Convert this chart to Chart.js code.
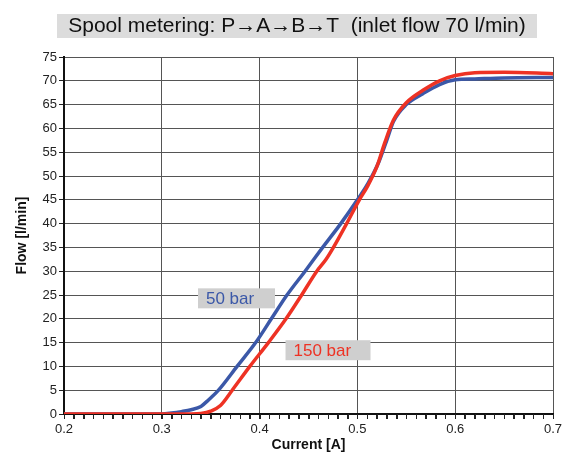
<!DOCTYPE html>
<html>
<head>
<meta charset="utf-8">
<script src="https://cdn.jsdelivr.net/npm/chart.js@4/dist/chart.umd.min.js"></script>
<style>
  html, body { margin: 0; padding: 0; background: #fff; }
  #wrap { position: relative; width: 563px; height: 454px; }
</style>
</head>
<body>
<div id="wrap"><canvas id="chartSpool"></canvas></div>
<script>
// Curvas de medición (corriente [A] -> caudal [l/min])
const titulo = 'Spool metering: P\u2192A\u2192B\u2192T  (inlet flow 70 l/min)';
const etiquetas = ['50 bar', '150 bar'];

const corriente50 = [0.2, 0.3, 0.31, 0.32, 0.33, 0.34, 0.348, 0.358, 0.377, 0.396, 0.412, 0.428, 0.4465, 0.4645, 0.483, 0.5, 0.511, 0.522, 0.53, 0.537, 0.55, 0.567, 0.584, 0.6, 0.62, 0.65, 0.7];
const caudal50    = [0, 0, 0.2, 0.5, 0.9, 1.6, 3, 5, 10, 15, 20, 25, 30, 35, 40, 45, 48.5, 53, 57.5, 61.5, 65, 67.3, 69.2, 70.2, 70.4, 70.6, 70.7];

const corriente150 = [0.2, 0.33, 0.34, 0.35, 0.36, 0.372, 0.39, 0.409, 0.427, 0.443, 0.4585, 0.468, 0.4755, 0.489, 0.502, 0.51, 0.52, 0.528, 0.537, 0.55, 0.567, 0.584, 0.6, 0.62, 0.65, 0.7];
const caudal150    = [0, 0, 0.1, 0.6, 1.8, 5, 10, 15, 20, 25, 30, 32.5, 35, 40, 45, 47.7, 52, 57, 61.8, 65.4, 68, 70, 71.1, 71.7, 71.8, 71.5];

const azul = '#3b58a8';
const rojo = '#ee3224';

const puntos = (xs, ys) => xs.map((x, i) => ({ x: x, y: ys[i] }));
const esMayor = v => Math.abs(v * 10 - Math.round(v * 10)) < 1e-6;

// Título, etiquetas con fondo gris y marcas menores del eje X
const cajas = {
    id: 'cajas',
    afterDraw(chart) {
        const c = chart.ctx;
        const sx = chart.scales.x, sy = chart.scales.y;
        c.save();
        // marcas menores cada 0.01 A
        c.strokeStyle = '#222';
        c.lineWidth = 1;
        sx.ticks.forEach(t => {
            const px = Math.round(sx.getPixelForValue(t.value)) + 0.5;
            c.beginPath();
            c.moveTo(px, sx.top);
            c.lineTo(px, sx.top + 5);
            c.stroke();
        });
        c.textBaseline = 'middle';
        // título
        c.font = '21px "Liberation Sans", Arial, sans-serif';
        c.fillStyle = '#dcdcdc';
        c.fillRect(57, 14, 480, 24);
        c.fillStyle = '#111';
        c.textAlign = 'center';
        c.fillText(titulo, 297, 26.5);
        // etiquetas de series
        c.font = '17px "Liberation Sans", Arial, sans-serif';
        c.textAlign = 'left';
        const lab = [
            { t: etiquetas[0], x: 0.337, y: 24.3, w: 77, col: azul },
            { t: etiquetas[1], x: 0.4265, y: 13.4, w: 85, col: rojo }
        ];
        lab.forEach(l => {
            const px = sx.getPixelForValue(l.x), py = sy.getPixelForValue(l.y);
            c.fillStyle = '#cfcfcf';
            c.fillRect(px, py - 10, l.w, 20);
            c.fillStyle = l.col;
            c.fillText(l.t, px + 8, py + 1);
        });
        c.restore();
    }
};

const ctxSpool = document.getElementById('chartSpool').getContext('2d');
new Chart(ctxSpool, {
    type: 'line',
    data: {
        datasets: [{
            label: etiquetas[0],
            data: puntos(corriente50, caudal50),
            borderColor: azul,
            borderWidth: 3.5,
            pointRadius: 0,
            cubicInterpolationMode: 'monotone',
            order: 2
        }, {
            label: etiquetas[1],
            data: puntos(corriente150, caudal150),
            borderColor: rojo,
            borderWidth: 3.5,
            pointRadius: 0,
            cubicInterpolationMode: 'monotone',
            order: 1
        }]
    },
    options: {
        responsive: true,
        maintainAspectRatio: false,
        animation: false,
        layout: { padding: { top: 57, right: 10, left: 14, bottom: 0 } },
        plugins: { legend: { display: false }, tooltip: { enabled: false } },
        scales: {
            x: {
                type: 'linear', min: 0.2, max: 0.7,
                afterFit: s => { s.height = 40; s.paddingRight = 0; s.paddingLeft = 0; },
                ticks: {
                    stepSize: 0.01, maxTicksLimit: 100, autoSkip: false, maxRotation: 0, padding: 3,
                    color: '#222', font: { family: '"Liberation Sans", Arial', size: 13 },
                    callback: v => esMayor(v) ? v.toFixed(1) : ''
                },
                grid: {
                    color: c => esMayor(c.tick.value) ? '#555' : 'rgba(0,0,0,0)',
                    tickColor: '#222', tickLength: 5
                },
                border: { color: '#111', width: 2 },
                title: {
                    display: true, text: 'Current [A]', color: '#111', padding: { top: 0, bottom: 0 },
                    font: { family: '"Liberation Sans", Arial', size: 14, weight: 'bold' }
                }
            },
            y: {
                min: 0, max: 75,
                afterFit: s => { s.width = 50; },
                ticks: {
                    stepSize: 5, padding: 2, color: '#222',
                    font: { family: '"Liberation Sans", Arial', size: 13 }
                },
                grid: { color: '#555', tickColor: '#222', tickLength: 5 },
                border: { color: '#111', width: 2 },
                title: {
                    display: true, text: 'Flow [l/min]', color: '#111', padding: 0,
                    font: { family: '"Liberation Sans", Arial', size: 14, weight: 'bold' }
                }
            }
        }
    },
    plugins: [cajas]
});
</script>
</body>
</html>
